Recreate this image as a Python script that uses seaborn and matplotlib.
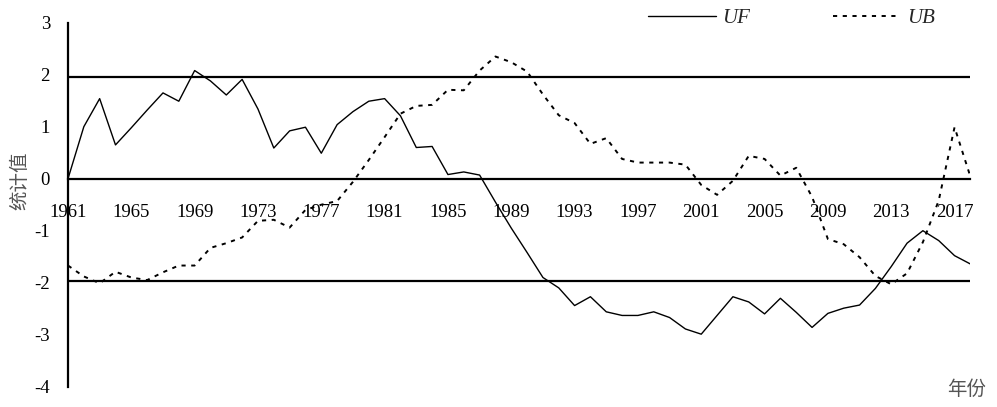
import numpy as np
import pandas as pd
import matplotlib
matplotlib.use("Agg")
import matplotlib.pyplot as plt
from matplotlib.font_manager import FontProperties
import seaborn as sns

# ---- data ----
years = list(range(1961, 2019))
uf = [0.00, 1.00, 1.54, 0.65, 0.98, 1.32, 1.65, 1.49, 2.08, 1.88,
      1.61, 1.91, 1.34, 0.59, 0.92, 0.99, 0.49, 1.04, 1.29, 1.49,
      1.54, 1.21, 0.60, 0.62, 0.08, 0.13, 0.07, -0.45, -0.95, -1.42,
      -1.90, -2.10, -2.44, -2.27, -2.56, -2.63, -2.63, -2.56, -2.67, -2.89,
      -2.99, -2.63, -2.27, -2.37, -2.60, -2.30, -2.57, -2.86, -2.59, -2.49,
      -2.43, -2.11, -1.69, -1.24, -1.00, -1.19, -1.48, -1.64]
ub = [-1.67, -1.88, -2.01, -1.79, -1.90, -1.95, -1.80, -1.67, -1.67, -1.33,
      -1.24, -1.13, -0.81, -0.79, -0.94, -0.60, -0.50, -0.43, -0.06, 0.36,
      0.80, 1.25, 1.40, 1.42, 1.71, 1.70, 2.08, 2.35, 2.24, 2.06,
      1.62, 1.22, 1.07, 0.67, 0.78, 0.38, 0.31, 0.31, 0.31, 0.27,
      -0.12, -0.31, -0.04, 0.44, 0.38, 0.06, 0.21, -0.35, -1.16, -1.26,
      -1.51, -1.87, -2.03, -1.82, -1.22, -0.42, 0.99, 0.04]
xtick_years = list(range(1961, 2018, 4))
yticks = [-4, -3, -2, -1, 0, 1, 2, 3]
crit = 1.96
ylabel = "统计值"
xlabel = "年份"
series_names = ["UF", "UB"]

assert len(uf) == len(years) and len(ub) == len(years)

# ---- style ----
sns.set_theme(style="white")
plt.rcParams["font.family"] = ["Liberation Serif", "DejaVu Serif"]
plt.rcParams["axes.unicode_minus"] = False
plt.rcParams["lines.scale_dashes"] = False

fig = plt.figure(figsize=(9.97, 4.07), dpi=100)
ax = fig.add_axes([0.0682, 0.0499, 0.9051, 0.8943])

df = pd.DataFrame({"year": years, "UF": uf, "UB": ub})
sns.lineplot(data=df, x="year", y="UF", ax=ax, color="black", lw=1.0,
             label=series_names[0])
sns.lineplot(data=df, x="year", y="UB", ax=ax, color="black", lw=1.4,
             linestyle=(0, (3, 4)), label=series_names[1])

ax.axhline(crit, color="black", lw=1.6)
ax.axhline(-crit, color="black", lw=1.6)

ax.set_xlim(years[0], years[-1])
ax.set_ylim(-4, 3)
ax.set_xticks(xtick_years)
ax.set_xticklabels([str(y) for y in xtick_years])
ax.set_yticks(yticks)
ax.set_yticklabels([str(v) for v in yticks])

for s in ["top", "right"]:
    ax.spines[s].set_visible(False)
ax.spines["bottom"].set_position(("data", 0))
for s in ["bottom", "left"]:
    ax.spines[s].set_color("black")
    ax.spines[s].set_linewidth(1.6)

ax.tick_params(axis="both", direction="in", length=6, width=1.6,
               labelsize=13.5, colors="black")
ax.tick_params(axis="x", pad=18)
ax.tick_params(axis="y", pad=13)
ax.set_xlabel("")
ax.set_ylabel("")
ax.grid(False)

cjk = ["Noto Sans CJK SC", "DejaVu Sans"]
fig.text(20 / 997, 1 - 181 / 407, ylabel, rotation=90, ha="center",
         va="center", fontsize=14, color="#555555", family=cjk)
fig.text(967 / 997, 1 - 389 / 407, xlabel, ha="center", va="center",
         fontsize=14, color="#555555", family=cjk)

handles, labels = ax.get_legend_handles_labels()
leg = ax.legend(handles, labels, loc="center left",
                bbox_to_anchor=(648 / 997, 1 - 18 / 407),
                bbox_transform=fig.transFigure, ncol=2, frameon=False,
                borderpad=0, borderaxespad=0, handlelength=3.25,
                handletextpad=0.3, columnspacing=4.0,
                prop=FontProperties(family="Liberation Serif",
                                    style="italic", size=15))

fig.savefig("out.png", dpi=100)
